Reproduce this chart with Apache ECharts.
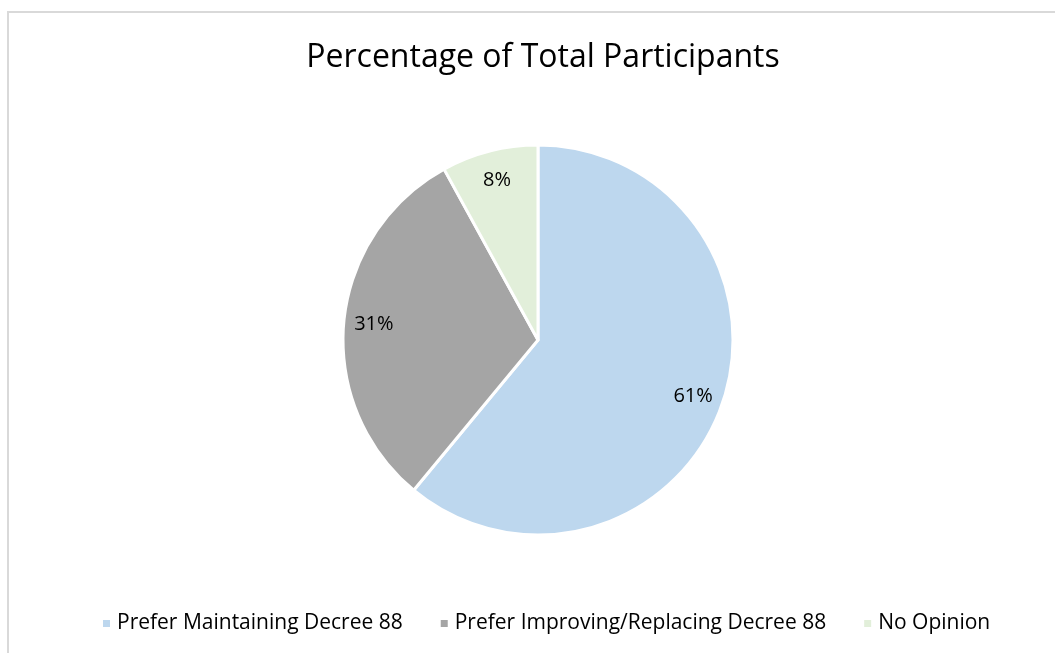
<!DOCTYPE html>
<html>
<head>
<meta charset="utf-8">
<script src="https://cdn.jsdelivr.net/npm/echarts@6/dist/echarts.min.js"></script>
<style>
  html, body { margin: 0; padding: 0; background: #ffffff; }
  #chart { width: 1055px; height: 653px; }
</style>
</head>
<body>
<div id="chart"></div>
<script>
// Survey responses (percent of all participants)
const categories = [
  'Prefer Maintaining Decree 88',
  'Prefer Improving/Replacing Decree 88',
  'No Opinion'
];
const shares = [61, 31, 8];
const sliceColors = ['#BDD7EE', '#A5A5A5', '#E2EFDA'];
const titleText = 'Percentage of Total Participants';

const FONT = '"Open Sans", Lato, sans-serif';
const center = [538, 340];
const outerR = 195;

const pieData = categories.map((name, i) => ({
  name: name,
  value: shares[i],
  itemStyle: { color: sliceColors[i] }
}));

const chart = echarts.init(document.getElementById('chart'), null, { renderer: 'canvas' });

chart.setOption({
  backgroundColor: '#ffffff',
  animation: false,
  title: {
    text: titleText,
    left: 538,
    textAlign: 'center',
    top: 37,
    textStyle: { fontFamily: FONT, fontSize: 32, fontWeight: 'normal', color: '#000000' }
  },
  legend: {
    data: categories,
    bottom: 14,
    left: 96,
    itemWidth: 9,
    itemHeight: 9,
    itemGap: 36,
    icon: 'rect',
    textStyle: { fontFamily: FONT, fontSize: 21, color: '#000000', padding: [0, 0, 0, 1] }
  },
  graphic: [{
    type: 'rect',
    silent: true,
    shape: { x: 8, y: 12, width: 1200, height: 800 },
    style: { fill: 'none', stroke: '#D9D9D9', lineWidth: 2 }
  }],
  series: [
    {
      // the slices themselves
      type: 'pie',
      center: center,
      radius: [0, outerR],
      startAngle: 90,
      clockwise: true,
      data: pieData,
      label: { show: false },
      labelLine: { show: false },
      itemStyle: { borderColor: '#ffffff', borderWidth: 3 },
      emphasis: { disabled: true }
    },
    {
      // transparent ring carrying the percentage labels near the rim
      type: 'pie',
      center: center,
      radius: [outerR * 0.66, outerR],
      startAngle: 90,
      clockwise: true,
      silent: true,
      data: categories.map((name, i) => ({ name: name, value: shares[i] })),
      itemStyle: { color: 'rgba(0,0,0,0)', borderWidth: 0 },
      label: {
        show: true,
        position: 'inside',
        formatter: p => p.value + '%',
        fontFamily: FONT,
        fontSize: 20,
        color: '#000000'
      },
      labelLine: { show: false },
      emphasis: { disabled: true }
    }
  ]
});
</script>
</body>
</html>
